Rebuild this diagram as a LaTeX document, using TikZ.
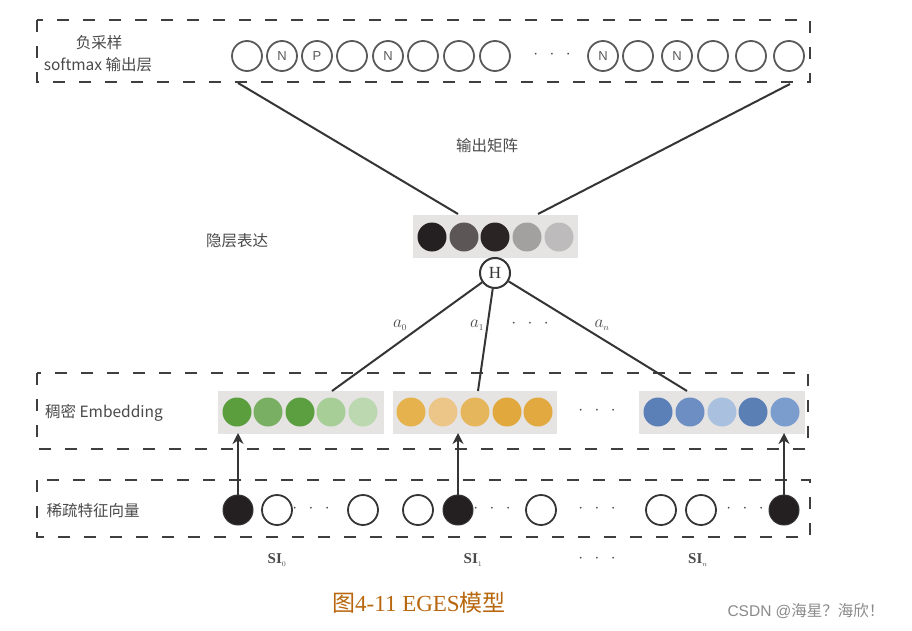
\documentclass[tikz,border=0pt]{standalone}
\usepackage{fontspec}
\setmainfont{Liberation Serif}
\newfontfamily\cjk{Noto Sans CJK SC}
\newfontfamily\lsans{Liberation Sans}
\usetikzlibrary{arrows.meta}
\definecolor{dashc}{HTML}{3F3F3F}
\definecolor{linec}{HTML}{353535}
\definecolor{ringc}{HTML}{5A5A5A}
\definecolor{txtc}{HTML}{4A4A4A}
\definecolor{rectc}{HTML}{E6E4E3}
\definecolor{hA}{HTML}{241F20}
\definecolor{hB}{HTML}{5C5657}
\definecolor{hC}{HTML}{2A2425}
\definecolor{hD}{HTML}{A3A0A0}
\definecolor{hE}{HTML}{BDBBBB}
\definecolor{gA}{HTML}{5A9E3E}
\definecolor{gB}{HTML}{79AF63}
\definecolor{gC}{HTML}{5C9F40}
\definecolor{gD}{HTML}{A8CE98}
\definecolor{gE}{HTML}{BCD8B0}
\definecolor{yA}{HTML}{E5B24E}
\definecolor{yB}{HTML}{EBC688}
\definecolor{yC}{HTML}{E6B65C}
\definecolor{yD}{HTML}{E1A83D}
\definecolor{yE}{HTML}{E2A940}
\definecolor{bA}{HTML}{5B80B8}
\definecolor{bB}{HTML}{6C8EC3}
\definecolor{bC}{HTML}{A9C0DE}
\definecolor{bD}{HTML}{5A7FB5}
\definecolor{bE}{HTML}{7B9DCE}
\definecolor{capc}{HTML}{B8670E}
\definecolor{wmc}{HTML}{8A8A8A}
\begin{document}
\begin{tikzpicture}[x=1pt,y=-1pt,
  dbox/.style={draw=dashc,line width=2.6pt,dash pattern=on 12pt off 14pt},
  ocirc/.style={circle,draw=ringc,line width=1.8pt,minimum size=30pt,inner sep=0pt,
     text=ringc,font=\lsans\fontsize{13}{13}\selectfont},
  fcirc/.style={circle,fill=#1,minimum size=29pt,inner sep=0pt},
  scirc/.style={circle,draw=linec,line width=1.8pt,minimum size=30pt,inner sep=0pt},
  bcirc/.style={circle,draw=linec,fill=hA,line width=1pt,minimum size=30pt,inner sep=0pt},
  rbox/.style={fill=rectc,minimum width=#1,minimum height=43pt,inner sep=0pt},
  lab/.style={text=txtc,font=\cjk\fontsize{15.5}{18}\selectfont},
  conn/.style={draw=linec,line width=2pt},
  arr/.style={draw=linec,line width=2.4pt,-{Stealth[length=11pt,width=11pt]}},
  dots/.style={text=txtc,font=\bfseries\fontsize{16}{16}\selectfont},
  wlab/.style={text=txtc,font=\itshape\fontsize{18}{18}\selectfont},
  silab/.style={text=txtc,font=\bfseries\fontsize{15}{15}\selectfont}]
\useasboundingbox (0,0) rectangle (912,631);
\fill[white] (0,0) rectangle (912,631);

% dashed boxes
\draw[dbox] (37,20) rectangle (810,82);
\draw[dbox] (37,373) rectangle (808,449);
\draw[dbox] (37,480) rectangle (810,537);

% labels
\node[lab] (l1) at (99,43) {负采样};
\node[lab] (l2) at (98,65) {softmax 输出层};
\node[lab] (l3) at (487,146) {输出矩阵};
\node[lab] (l4) at (237,241) {隐层表达};
\node[lab] (l5) at (104,413) {稠密 Embedding};
\node[lab] (l6) at (93,511) {稀疏特征向量};

% output layer
\foreach \x/\t [count=\i] in {247/,282/N,317/P,352/,388/N,423/,459/,495/,603/N,638/,677/N,713/,751/,789/}
  \node[ocirc] (o\i) at (\x,56) {\t};
\node[dots] (od) at (552,55) {$\cdot\;\,\cdot\;\,\cdot$};

% hidden layer
\node[rbox=165pt] (hid) at (495.5,236.5) {};
\foreach \x/\c [count=\i] in {432/hA,464/hB,495/hC,527/hD,559/hE}
  \node[fcirc=\c] (h\i) at (\x,237) {};
\node[circle,draw=linec,fill=white,line width=2pt,minimum size=30pt,inner sep=0pt,
  font=\fontsize{17}{17}\selectfont,text=linec] (H) at (495,273) {H};

% connectors output -> hidden
\coordinate (ol) at (238,83);
\coordinate (or) at (790,84);
\coordinate (hl) at (458,214);
\coordinate (hr) at (538,214);
\draw[conn] (ol) -- (hl);
\draw[conn] (or) -- (hr);

% embedding rects
\node[rbox=166pt] (eg) at (300.5,412) {};
\node[rbox=164pt] (ey) at (474.5,412) {};
\node[rbox=166pt] (eb) at (722,412) {};
\foreach \x/\c [count=\i] in {237/gA,268/gB,300/gC,331/gD,363/gE}
  \node[fcirc=\c] (g\i) at (\x,412) {};
\foreach \x/\c [count=\i] in {411/yA,443/yB,475/yC,507/yD,538/yE}
  \node[fcirc=\c] (y\i) at (\x,412) {};
\foreach \x/\c [count=\i] in {658/bA,690/bB,722/bC,753/bD,785/bE}
  \node[fcirc=\c] (b\i) at (\x,412) {};
\node[dots] (ed) at (597,411) {$\cdot\;\,\cdot\;\,\cdot$};

% H -> embeddings
\coordinate (eg0) at (332,391);
\coordinate (ey0) at (478,391);
\coordinate (eb0) at (687,391);
\draw[conn] (H) -- (eg0);
\draw[conn] (H) -- (ey0);
\draw[conn] (H) -- (eb0);
\node[wlab] (a0) at (400,325) {$a_{\scriptscriptstyle 0}$};
\node[wlab] (a1) at (477,325) {$a_{\scriptscriptstyle 1}$};
\node[dots] (ad) at (530,324) {$\cdot\;\,\cdot\;\,\cdot$};
\node[wlab] (an) at (602,325) {$a_{\scriptscriptstyle n}$};

% sparse layer
\node[bcirc] (s1) at (238,510) {};
\node[scirc] (s2) at (277,510) {};
\node[dots] (sd1) at (311,509) {$\cdot\;\,\cdot\;\,\cdot$};
\node[scirc] (s3) at (363,510) {};
\node[scirc] (s4) at (418,510) {};
\node[bcirc] (s5) at (458,510) {};
\node[dots] (sd2) at (492,509) {$\cdot\;\,\cdot\;\,\cdot$};
\node[scirc] (s6) at (541,510) {};
\node[dots] (sd3) at (597,509) {$\cdot\;\,\cdot\;\,\cdot$};
\node[scirc] (s7) at (661,510) {};
\node[scirc] (s8) at (701,510) {};
\node[dots] (sd4) at (745,509) {$\cdot\;\,\cdot\;\,\cdot$};
\node[bcirc] (s9) at (784,510) {};

% arrows
\coordinate (t1) at (238,433);
\coordinate (t2) at (458,433);
\coordinate (t3) at (784,433);
\draw[arr] (s1) -- (t1);
\draw[arr] (s5) -- (t2);
\draw[arr] (s9) -- (t3);

% SI labels
\node[silab] (si0) at (277,560) {SI$_{\scriptscriptstyle 0}$};
\node[silab] (si1) at (473,560) {SI$_{\scriptscriptstyle 1}$};
\node[dots] (sid) at (597,559) {$\cdot\;\,\cdot\;\,\cdot$};
\node[silab] (sin) at (698,560) {SI$_{\scriptscriptstyle n}$};

% caption and watermark
\node[text=capc,font=\fontsize{23}{26}\selectfont] (cap) at (419,603) {{\cjk 图}4-11 EGES{\cjk 模型}};
\node[text=wmc,font=\lsans\fontsize{15.5}{18}\selectfont] (wm) at (806,611) {CSDN @{\cjk 海星？海欣！}};
\end{tikzpicture}
\end{document}
